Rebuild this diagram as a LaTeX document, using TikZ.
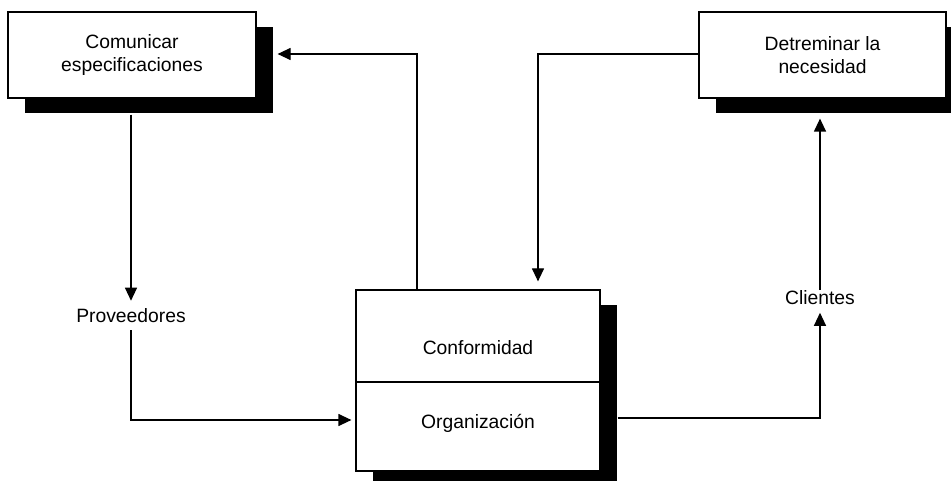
\documentclass[tikz,border=0pt]{standalone}
\usepackage{fontspec}
\setmainfont{Liberation Sans}
\usetikzlibrary{arrows.meta,shadows}
\begin{document}
\begin{tikzpicture}[x=1pt,y=-1pt,
  every node/.style={font=\fontsize{19.3}{23}\selectfont},
  stepbox/.style={draw, line width=1.2pt, fill=white, inner sep=0pt, align=center,
    drop shadow={shadow xshift=17pt, shadow yshift=-15pt, fill=black, opacity=1}},
  tag/.style={inner sep=0pt},
  link/.style={line width=1.2pt, -{Triangle[length=13pt,width=12pt]}},
  plain/.style={line width=1.2pt}]
\useasboundingbox (0,0) rectangle (951,481);
\clip (0,0) rectangle (951,481);

% process boxes
\node[stepbox, minimum width=248pt, minimum height=86pt] (com) at (132,55) {Comunicar\\especificaciones};
\node[stepbox, minimum width=247pt, minimum height=86pt] (det) at (822.5,55) {Detreminar la\\necesidad};
\node[stepbox, minimum width=244pt, minimum height=181pt] (orgbox) at (478,380.5) {};
\draw[plain] ([yshift=-1.5pt]orgbox.west) -- ([yshift=-1.5pt]orgbox.east);
\node[anchor=base] (conf) at (478,354) {Conformidad};
\node[anchor=base] (org) at (478,428) {Organización};

% side labels
\node[tag] (prov) at (131,316) {Proveedores};
\node[tag] (cli) at (820,297.5) {Clientes};

% bend points
\coordinate (c1) at (417,54);
\coordinate (c2) at (538,54);
\coordinate (c4) at (131,420);
\coordinate (c5) at (820,418);

% connectors
\draw[link] (orgbox.north -| c1) -- (c1) -- ([xshift=21pt]com.east |- c1);
\draw[link] (det.west |- c2) -- (c2) -- ([yshift=8pt]orgbox.north -| c2);
\draw[link] ([yshift=-16pt]com.south -| prov) -- ([yshift=8pt]prov.north);
\draw[link] ([yshift=-7pt]prov.south) -- (c4) -- ([xshift=-4pt]orgbox.west |- c4);
\draw[link] ([xshift=17pt]orgbox.east |- c5) -- (c5) -- ([yshift=-8pt]cli.south);
\draw[link] (cli.north) -- ([yshift=-20pt]det.south -| cli);
\end{tikzpicture}
\end{document}
